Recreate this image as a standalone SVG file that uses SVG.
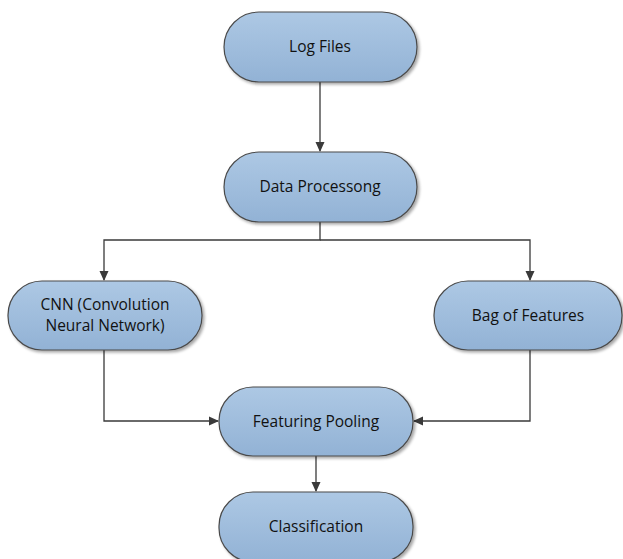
<svg xmlns="http://www.w3.org/2000/svg" width="623" height="559" viewBox="0 0 623 559">
<defs>
<linearGradient id="g" x1="0" y1="0" x2="0" y2="1">
<stop offset="0" stop-color="#adc8e4"/>
<stop offset="1" stop-color="#92b2d5"/>
</linearGradient>
<filter id="sh" x="-10%" y="-10%" width="130%" height="130%">
<feGaussianBlur in="SourceAlpha" stdDeviation="1.5"/>
<feOffset dx="2" dy="2" result="b"/>
<feComponentTransfer><feFuncA type="linear" slope="0.35"/></feComponentTransfer>
<feMerge><feMergeNode/><feMergeNode in="SourceGraphic"/></feMerge>
</filter>
<marker id="ah" markerWidth="10" markerHeight="10" refX="9" refY="5" orient="auto" markerUnits="userSpaceOnUse">
<path d="M0,0.5 L10,5 L0,9.5 Z" fill="#3a3a3a"/>
</marker>
</defs>
<style>
.n{fill:url(#g);stroke:#4a4a4a;stroke-width:1.2;filter:url(#sh)}
.t{font-family:"Open Sans","Liberation Sans",sans-serif;font-size:15.5px;fill:#111;text-anchor:middle}
.c{fill:none;stroke:#3a3a3a;stroke-width:1.3;marker-end:url(#ah)}
</style>
<rect width="623" height="559" fill="#fff"/>
<g id="connectors">
<path class="c" d="M320,82 L320,151"/>
<path class="c" d="M320,222 L320,240 L104,240 L104,280"/>
<path class="c" d="M320,240 L530,240 L530,280"/>
<path class="c" d="M104,350 L104,421 L218,421"/>
<path class="c" d="M530,350 L530,421 L414,421"/>
<path class="c" d="M316,456 L316,491"/>
</g>
<g id="log-files">
<rect class="n" x="224" y="12" width="193" height="70" rx="35"/>
<text class="t" x="320" y="52">Log Files</text>
</g>
<g id="data-processong">
<rect class="n" x="224" y="152" width="193" height="70" rx="35"/>
<text class="t" x="320" y="192">Data Processong</text>
</g>
<g id="cnn">
<rect class="n" x="8" y="281" width="194" height="69" rx="34"/>
<text class="t" x="105" y="310">CNN (Convolution</text>
<text class="t" x="105" y="331">Neural Network)</text>
</g>
<g id="bag-of-features">
<rect class="n" x="434" y="281" width="188" height="69" rx="34"/>
<text class="t" x="528" y="321">Bag of Features</text>
</g>
<g id="featuring-pooling">
<rect class="n" x="219" y="387" width="194" height="69" rx="34"/>
<text class="t" x="316" y="427">Featuring Pooling</text>
</g>
<g id="classification">
<rect class="n" x="219" y="492" width="194" height="70" rx="34"/>
<text class="t" x="316" y="532">Classification</text>
</g>
</svg>
